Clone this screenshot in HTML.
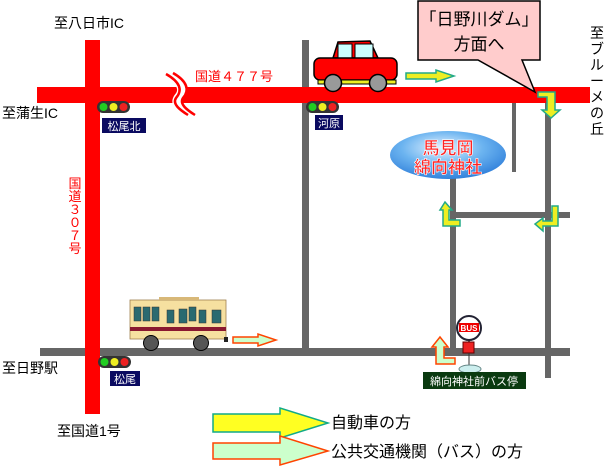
<!DOCTYPE html>
<html><head><meta charset="utf-8"><style>
body{margin:0;background:#fff;}
svg text{font-family:"Liberation Sans","Noto Sans CJK JP",sans-serif;}
</style></head><body>
<svg width="606" height="467" viewBox="0 0 606 467" xmlns="http://www.w3.org/2000/svg">
<defs>
<radialGradient id="sh" cx="0.45" cy="0.35" r="0.7">
<stop offset="0" stop-color="#e8f4ff"/><stop offset="0.5" stop-color="#6cb4f0"/><stop offset="1" stop-color="#2a7ad8"/></radialGradient>
</defs>
<!-- gray roads -->
<rect x="302" y="40" width="7" height="316" fill="#666"/>
<rect x="40" y="348" width="530" height="8" fill="#666"/>
<rect x="512" y="100" width="4" height="72" fill="#666"/>
<rect x="545" y="100" width="6" height="278" fill="#666"/>
<rect x="450" y="172" width="6" height="184" fill="#666"/>
<rect x="450" y="212" width="120" height="6" fill="#666"/>
<!-- red roads -->
<rect x="37" y="87" width="553" height="16" fill="#f00"/>
<rect x="85" y="40" width="15" height="374" fill="#f00"/>
<!-- wavy break -->
<path d="M168,74 C182,82 185,90 178,98 C174,104 182,110 190,115" stroke="#fff" stroke-width="9" fill="none"/>
<path d="M166,74 C180,82 183,90 176,98 C172,104 180,110 188,115" stroke="#f00" stroke-width="2.5" fill="none"/>
<path d="M173,73 C187,81 190,90 183,98 C179,104 187,110 195,115" stroke="#f00" stroke-width="2.5" fill="none"/>
<!-- labels -->
<text x="54" y="28" font-size="14">至八日市IC</text>
<text x="2" y="118" font-size="14">至蒲生IC</text>
<text x="2" y="373" font-size="14">至日野駅</text>
<text x="57" y="436" font-size="14">至国道1号</text>
<text x="195" y="81" font-size="13" fill="#f00">国道４７７号</text>
<g font-size="13" fill="#f00" text-anchor="middle"><text x="75" y="188">国</text><text x="75" y="201">道</text><text x="75" y="214">３</text><text x="75" y="227">０</text><text x="75" y="240">７</text><text x="75" y="253">号</text></g>
<g font-size="14" text-anchor="middle"><text x="597" y="38">至</text><text x="597" y="54">ブ</text><text x="597" y="70">ル</text><text x="597" y="86">ー</text><text x="597" y="102">メ</text><text x="597" y="118">の</text><text x="597" y="134">丘</text></g>
<!-- traffic lights -->
<g id="tl"><rect x="97" y="101" width="33" height="12" rx="6" fill="#333"/><circle cx="103.5" cy="107" r="4" fill="#2c2"/><circle cx="113.5" cy="107" r="4" fill="#ee2"/><circle cx="123.5" cy="107" r="4" fill="#e22"/></g>
<use href="#tl" x="209" y="0"/>
<use href="#tl" x="1" y="255"/>
<rect x="102" y="118" width="44" height="15" fill="#0a0a60"/><text x="124" y="130" font-size="11" fill="#fff" text-anchor="middle">松尾北</text>
<rect x="315" y="115" width="28" height="15" fill="#0a0a60"/><text x="329" y="127" font-size="11" fill="#fff" text-anchor="middle">河原</text>
<rect x="110" y="371" width="30" height="15" fill="#0a0a60"/><text x="125" y="383" font-size="11" fill="#fff" text-anchor="middle">松尾</text>
<!-- car -->
<g stroke="#000" stroke-width="1.5">
<path d="M333,58 L338,42 L370,41 L378,58 Z" fill="#f00"/>
<rect x="338" y="44" width="14" height="14" fill="#cff" stroke-width="1"/><rect x="355" y="44" width="18" height="14" fill="#cff" stroke-width="1"/>
<rect x="314" y="58" width="83" height="22" rx="6" fill="#f00"/>
<rect x="318" y="80" width="78" height="4" fill="#ee2" stroke-width="1"/>
<circle cx="333" cy="83" r="8.5" fill="#999"/><circle cx="378" cy="83" r="8.5" fill="#999"/>
</g>
<!-- yellow arrows -->
<path d="M406,73 L436,73 L436,70 L454,76 L436,82 L436,79 L406,79 Z" fill="#ee2" stroke="#2a8" stroke-width="1.5"/>
<path d="M538,92 L555,92 L555,110 L560,110 L551,118 L542,110 L547,110 L547,97 L538,97 Z" fill="#ee2" stroke="#2a8" stroke-width="1.5"/>
<path d="M445,202 L440,210 L443,210 L443,226 L460,226 L460,220 L449,220 L449,210 L452,210 Z" fill="#ee2" stroke="#2a8" stroke-width="1.5"/>
<path d="M552,206 L558,206 L558,226 L543,226 L543,231 L535,224 L543,218 L543,221 L552,221 Z" fill="#ee2" stroke="#2a8" stroke-width="1.5"/>
<!-- orange arrows -->
<path d="M233,337 L258,337 L258,334 L276,340 L258,346 L258,343 L233,343 Z" fill="#cfc" stroke="#f40" stroke-width="1.5"/>
<path d="M440,337 L432,347 L436,347 L436,364 L455,364 L455,358 L444,358 L444,347 L448,347 Z" fill="#cfc" stroke="#f40" stroke-width="1.5"/>
<!-- bus -->
<rect x="130" y="300" width="96" height="39" fill="#f6e0a0" stroke="#a08050" stroke-width="0.8"/>
<rect x="159" y="297" width="40" height="3" fill="#d8b878"/>
<rect x="130" y="327" width="96" height="4" fill="#8a1830"/>
<g fill="#2a6a70" stroke="#333" stroke-width="0.5"><rect x="134" y="307" width="7" height="14"/><rect x="143" y="307" width="7" height="14"/><rect x="152" y="307" width="7" height="14"/><rect x="167" y="310" width="7" height="13"/><rect x="179" y="309" width="8" height="14"/><rect x="189" y="307" width="7" height="14"/><rect x="199" y="310" width="7" height="13"/><rect x="212" y="310" width="9" height="13"/></g>
<circle cx="151" cy="343" r="7.5" fill="#555" stroke="#000"/><circle cx="201" cy="343" r="7.5" fill="#555" stroke="#000"/>
<rect x="224" y="337" width="4" height="5" fill="#222"/>
<!-- shrine -->
<ellipse cx="448" cy="155" rx="58" ry="24" fill="url(#sh)"/>
<g font-size="17" fill="#f22" stroke="#fff" stroke-width="0.6" text-anchor="middle" font-weight="bold"><text x="448" y="154">馬見岡</text><text x="448" y="173">綿向神社</text></g>
<!-- callout -->
<path d="M418,1 L540,1 L540,60 L522,60 L535,92 L478,60 L418,60 Z" fill="#fcc" stroke="#000" stroke-width="1.5"/>
<text x="479" y="25" font-size="17" text-anchor="middle">「日野川ダム」</text>
<text x="479" y="50" font-size="17" text-anchor="middle">方面へ</text>
<!-- bus stop -->
<line x1="469" y1="330" x2="469" y2="345" stroke="#333" stroke-width="1.5"/>
<circle cx="469" cy="328" r="12" fill="#fff" stroke="#223" stroke-width="2"/>
<rect x="459" y="323" width="20" height="9" fill="#e00"/><text x="469" y="331" font-size="8" fill="#fff" text-anchor="middle" font-weight="bold">BUS</text>
<rect x="463" y="342" width="11" height="11" fill="#e22" stroke="#600"/>
<line x1="469" y1="353" x2="469" y2="368" stroke="#333"/>
<ellipse cx="470" cy="369" rx="11" ry="4" fill="#cee" stroke="#688"/>
<rect x="423" y="372" width="103" height="17" fill="#0a3a10"/>
<text x="474" y="385" font-size="11" fill="#fff" text-anchor="middle">綿向神社前バス停</text>
<!-- legend -->
<path d="M213,414 L280,414 L280,408 L328,423 L280,438 L280,432 L213,432 Z" fill="#ff2" stroke="#1a8" stroke-width="1.5"/>
<path d="M213,443 L280,443 L280,436 L328,451 L280,465 L280,459 L213,459 Z" fill="#cfc" stroke="#f40" stroke-width="1.5"/>
<text x="331" y="428" font-size="16" font-family="'Liberation Serif','Noto Serif CJK SC',serif">自動車の方</text>
<text x="331" y="457" font-size="16" font-family="'Liberation Serif','Noto Serif CJK SC',serif">公共交通機関（バス）の方</text>
</svg>
</body></html>
